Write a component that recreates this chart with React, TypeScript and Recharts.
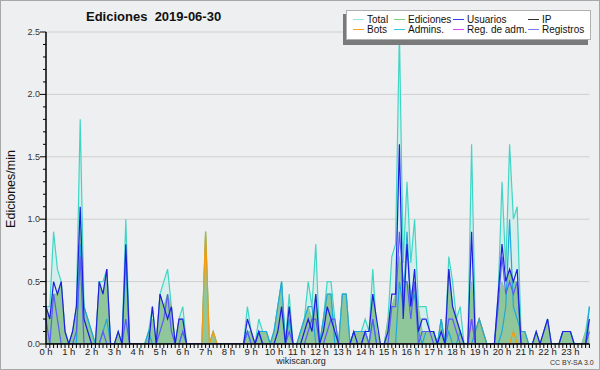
import React from 'react';
import { ComposedChart, Area, Line, XAxis, YAxis, CartesianGrid } from 'recharts';

const FONT = '"Liberation Sans", Arial, sans-serif';

const hourLabels = ['0 h','1 h','2 h','3 h','4 h','5 h','6 h','7 h','8 h','9 h','10 h','11 h','12 h','13 h','14 h','15 h','16 h','17 h','18 h','19 h','20 h','21 h','22 h','23 h'];

const total = [
  0.3, 0.3, 0.9, 0.6, 0.5, 0.1,
  0, 0.1, 0.3, 1.8, 0.3, 0.2,
  0.1, 0, 0.5, 0.5, 0.6, 0,
  0, 0.1, 0, 1.0, 0, 0,
  0, 0, 0, 0.1, 0.3, 0,
  0.4, 0.5, 0.6, 0.3, 0, 0.2,
  0.3, 0, 0, 0, 0, 0,
  0.9, 0, 0.1, 0, 0, 0,
  0, 0, 0, 0, 0, 0.3,
  0.1, 0, 0.2, 0.1, 0.1, 0,
  0.1, 0.3, 0.5, 0, 0.4, 0,
  0, 0.1, 0.2, 0.5, 0.3, 0.8,
  0, 0.2, 0.5, 0.5, 0.2, 0,
  0.4, 0.4, 0, 0.1, 0.1, 0.1,
  0.2, 0.1, 0.6, 0.1, 0, 0,
  0.2, 0.7, 0.8, 2.5, 0.65, 1.3,
  0.65, 1.0, 0.3, 0.3, 0.3, 0.1,
  0.1, 0, 0.2, 0, 0.7, 0.5,
  0.2, 0.3, 0, 0, 1.6, 0.1,
  0.2, 0.1, 0, 0, 0, 0.4,
  1.3, 0.6, 1.6, 1.0, 1.1, 0.1,
  0.1, 0, 0, 0.1, 0, 0.1,
  0.2, 0, 0, 0, 0.1, 0.1,
  0.1, 0, 0, 0, 0.1, 0.3,
];

const ediciones = [
  0.3, 0.2, 0.4, 0.4, 0.5, 0.1,
  0, 0.1, 0.3, 1.0, 0.3, 0.2,
  0.1, 0, 0.5, 0.4, 0.6, 0,
  0, 0.1, 0, 0.7, 0, 0,
  0, 0, 0, 0.1, 0.2, 0,
  0.4, 0.3, 0.4, 0.3, 0, 0.2,
  0.2, 0, 0, 0, 0, 0,
  0.9, 0, 0.1, 0, 0, 0,
  0, 0, 0, 0, 0, 0.1,
  0.1, 0, 0.1, 0.1, 0.1, 0,
  0.1, 0.3, 0.5, 0, 0.3, 0,
  0, 0.1, 0.2, 0.3, 0.2, 0.4,
  0, 0.2, 0.4, 0.4, 0.1, 0,
  0.4, 0.4, 0, 0.1, 0.1, 0.1,
  0.1, 0, 0.4, 0.1, 0, 0,
  0.2, 0.3, 0.4, 0.7, 0.5, 0.5,
  0.4, 0.5, 0.3, 0.1, 0.1, 0.1,
  0.1, 0, 0.2, 0, 0.6, 0.3,
  0.2, 0.1, 0, 0, 0.5, 0.1,
  0.2, 0.1, 0, 0, 0, 0.3,
  0.5, 0.4, 0.6, 0.5, 0.5, 0.1,
  0.1, 0, 0, 0.1, 0, 0.1,
  0.2, 0, 0, 0, 0.1, 0.1,
  0.1, 0, 0, 0, 0.1, 0.2,
];

const usuarios = [
  0.3, 0.2, 0.5, 0.4, 0.5, 0.1,
  0, 0.1, 0.3, 1.1, 0.2, 0.1,
  0, 0, 0.5, 0.4, 0.6, 0,
  0, 0.1, 0, 0.8, 0, 0,
  0, 0, 0, 0, 0.3, 0,
  0.4, 0.3, 0.2, 0.3, 0, 0.2,
  0.2, 0, 0, 0, 0, 0,
  0, 0, 0, 0, 0, 0,
  0, 0, 0, 0, 0, 0.2,
  0.1, 0, 0.1, 0, 0, 0,
  0, 0.1, 0.3, 0, 0.3, 0,
  0, 0, 0.1, 0.2, 0.1, 0.4,
  0, 0.1, 0.3, 0.2, 0.1, 0,
  0, 0, 0, 0.1, 0, 0,
  0.1, 0.1, 0.4, 0.2, 0, 0,
  0.1, 0.4, 0.4, 1.6, 0.2, 0.8,
  0.3, 0.6, 0.1, 0.2, 0.2, 0.1,
  0.1, 0, 0.1, 0, 0.6, 0.3,
  0.2, 0.1, 0, 0, 0.9, 0,
  0, 0, 0, 0, 0, 0.4,
  0.8, 0.5, 0.6, 0.5, 0.6, 0,
  0, 0, 0, 0.1, 0, 0.1,
  0.2, 0, 0, 0, 0.1, 0.1,
  0.1, 0, 0, 0, 0, 0.2,
];

const ip = [
  0, 0, 0, 0, 0, 0,  0, 0, 0, 0, 0, 0,  0, 0, 0, 0, 0, 0,  0, 0, 0, 0, 0, 0,
  0, 0, 0, 0, 0, 0,  0, 0, 0, 0, 0, 0,  0, 0, 0, 0, 0, 0,  0, 0, 0, 0, 0, 0,
  0, 0, 0, 0, 0, 0,  0, 0, 0, 0, 0, 0,  0, 0, 0, 0, 0, 0,  0, 0, 0, 0, 0, 0,
  0, 0, 0, 0, 0, 0,  0, 0, 0, 0, 0, 0,  0, 0, 0, 0, 0, 0,  0, 0, 0, 0, 0, 0,
  0, 0, 0, 0, 0, 0,  0, 0, 0, 0, 0, 0,  0, 0, 0, 0, 0, 0,  0, 0, 0, 0, 0, 0,
  0, 0, 0, 0, 0, 0,  0, 0, 0, 0, 0, 0,  0, 0, 0, 0, 0, 0,  0, 0, 0, 0, 0, 0,
];

const bots = [
  0, 0, 0, 0, 0, 0,  0, 0, 0, 0, 0, 0,  0, 0, 0, 0, 0, 0,  0, 0, 0, 0, 0, 0,
  0, 0, 0, 0, 0, 0,  0, 0, 0, 0, 0, 0,  0, 0, 0, 0, 0, 0,  0.9, 0, 0.1, 0, 0, 0,
  0, 0, 0, 0, 0, 0,  0, 0, 0, 0, 0, 0,  0, 0, 0, 0, 0, 0,  0, 0, 0, 0, 0, 0,
  0, 0, 0, 0, 0, 0,  0, 0, 0, 0, 0, 0,  0, 0, 0, 0, 0, 0,  0, 0, 0, 0, 0, 0,
  0, 0, 0, 0, 0, 0,  0, 0, 0, 0, 0, 0,  0, 0, 0, 0, 0, 0.1,  0.2, 0.1, 0, 0, 0, 0,
  0, 0, 0, 0.1, 0, 0,  0, 0, 0, 0, 0, 0,  0, 0, 0, 0, 0, 0,  0, 0, 0, 0, 0, 0,
];

const admins = [
  0, 0, 0, 0, 0, 0,
  0, 0, 0, 0.8, 0.3, 0.2,
  0.1, 0, 0, 0.1, 0.2, 0,
  0, 0, 0, 0.7, 0, 0,
  0, 0, 0, 0.1, 0, 0,
  0, 0, 0, 0, 0, 0,
  0.1, 0, 0, 0, 0, 0,
  0, 0, 0, 0, 0, 0,
  0, 0, 0, 0, 0, 0.1,
  0, 0, 0.1, 0.1, 0.1, 0,
  0.1, 0.3, 0.5, 0, 0.2, 0,
  0, 0.1, 0.2, 0.3, 0.3, 0,
  0, 0.2, 0.4, 0.4, 0, 0,
  0.4, 0.4, 0, 0.1, 0.1, 0.1,
  0.1, 0, 0.2, 0, 0, 0,
  0, 0, 0, 0.5, 0.3, 0.9,
  0.3, 0.4, 0.1, 0, 0.1, 0.1,
  0.1, 0, 0.2, 0, 0.1, 0,
  0, 0.1, 0, 0, 0, 0.1,
  0.2, 0.1, 0, 0, 0, 0,
  0.1, 0.3, 1.0, 0.3, 0.2, 0.1,
  0.1, 0, 0, 0, 0, 0,
  0, 0, 0, 0, 0.1, 0.1,
  0.1, 0, 0, 0, 0, 0.3,
];

const regAdm = [
  0, 0, 0, 0, 0, 0,  0, 0, 0, 0, 0, 0,  0, 0, 0, 0, 0, 0,  0, 0, 0, 0, 0, 0,
  0, 0, 0, 0, 0, 0,  0, 0, 0, 0, 0, 0,  0, 0, 0, 0, 0, 0,  0, 0, 0, 0, 0, 0,
  0, 0, 0, 0, 0, 0,  0, 0, 0, 0, 0, 0,  0, 0, 0, 0, 0, 0,  0, 0, 0, 0, 0, 0,
  0, 0, 0, 0, 0, 0,  0, 0, 0, 0, 0, 0,  0, 0, 0, 0, 0, 0,  0, 0, 0, 0, 0, 0,
  0, 0, 0, 0, 0, 0,  0, 0, 0, 0, 0, 0,  0, 0, 0, 0, 0.2, 0,  0, 0, 0, 0, 0, 0,
  0, 0, 0, 0, 0, 0,  0, 0, 0, 0, 0, 0,  0, 0, 0, 0, 0, 0,  0, 0, 0, 0, 0, 0,
];

const registros = [
  0.2, 0, 0.4, 0.2, 0, 0,
  0, 0, 0.1, 0.7, 0, 0,
  0, 0, 0, 0.1, 0, 0,
  0, 0, 0, 0.2, 0, 0,
  0, 0, 0, 0, 0, 0,
  0.1, 0.2, 0.4, 0.1, 0, 0,
  0.1, 0, 0, 0, 0, 0,
  0, 0, 0, 0, 0, 0,
  0, 0, 0, 0, 0, 0.1,
  0, 0, 0.1, 0, 0, 0,
  0, 0, 0, 0, 0.1, 0,
  0, 0, 0, 0.1, 0.2, 0.2,
  0, 0, 0.1, 0.2, 0.2, 0,
  0, 0, 0, 0, 0, 0,
  0.1, 0, 0.2, 0, 0, 0,
  0, 0.3, 0.3, 0.9, 0.5, 0.5,
  0.2, 0.5, 0, 0.1, 0.1, 0.1,
  0, 0, 0, 0, 0.2, 0.2,
  0.1, 0, 0, 0, 0.2, 0,
  0, 0, 0, 0, 0, 0.3,
  0.7, 0.4, 0.5, 0.4, 0.5, 0,
  0, 0, 0, 0, 0, 0,
  0, 0, 0, 0, 0, 0,
  0, 0, 0, 0, 0, 0.1,
];

const yTickValues = [0, 0.1, 0.2, 0.3, 0.4, 0.5, 0.6, 0.7, 0.8, 0.9, 1.0, 1.1, 1.2, 1.3, 1.4, 1.5, 1.6, 1.7, 1.8, 1.9, 2.0, 2.1, 2.2, 2.3, 2.4, 2.5];
const yLabelValues = [0, 0.5, 1.0, 1.5, 2.0, 2.5];
const gridValues = [0.5, 1.0, 1.5, 2.0, 2.5];

const legendItems = [
  { name: 'Total', color: '#8fe3de', col: 0, row: 0 },
  { name: 'Ediciones', color: '#7cce7c', col: 1, row: 0 },
  { name: 'Usuarios', color: '#3a3aff', col: 2, row: 0 },
  { name: 'IP', color: '#333333', col: 3, row: 0 },
  { name: 'Bots', color: '#ffa020', col: 0, row: 1 },
  { name: 'Admins.', color: '#30c8e0', col: 1, row: 1 },
  { name: 'Reg. de adm.', color: '#e040ff', col: 2, row: 1 },
  { name: 'Registros', color: '#7878ff', col: 3, row: 1 },
];
const legendCols = [353, 394, 453, 528];

const data = total.map((t, i) => ({
  i,
  total: t,
  ediciones: ediciones[i],
  usuarios: usuarios[i],
  ip: ip[i],
  bots: bots[i],
  admins: admins[i],
  regAdm: regAdm[i],
  registros: registros[i],
}));
const xTicks = data.map((d) => d.i);

const XTick = (props: any) => {
  const { x, y, payload } = props;
  const v = payload.value as number;
  const isHour = v % 6 === 0;
  return (
    <g>
      <line x1={x} x2={x} y1={y} y2={y + 4} stroke="#000" strokeWidth={1} />
      {isHour && (
        <text x={x} y={y + 11} textAnchor="middle" fontSize={9.5} fill="#222" fontFamily={FONT}>
          {hourLabels[v / 6]}
        </text>
      )}
    </g>
  );
};

const YTick = (props: any) => {
  const { x, y, payload } = props;
  const v = payload.value as number;
  const major = yLabelValues.some((m) => Math.abs(m - v) < 1e-6);
  return (
    <g>
      <line x1={x - (major ? 6 : 3)} x2={x} y1={y} y2={y} stroke="#000" strokeWidth={1} />
      {major && (
        <text x={x - 6} y={y + 3} textAnchor="end" fontSize={9} fill="#333" fontFamily={FONT}>
          {v.toFixed(1)}
        </text>
      )}
    </g>
  );
};

export default function App() {
  return (
    <div
      style={{
        position: 'absolute',
        left: 0,
        top: 0,
        width: 600,
        height: 370,
        background: '#eeeff0',
        boxSizing: 'border-box',
        border: '1px solid #a8a8a8',
        overflow: 'hidden',
        fontFamily: FONT,
      }}
    >
      <div style={{ position: 'absolute', left: -1, top: -1 }}>
        <ComposedChart
          width={600}
          height={370}
          data={data}
          margin={{ top: 32, right: 10.6, bottom: 0, left: 0 }}
        >
          <CartesianGrid vertical={false} horizontalValues={gridValues} stroke="#cfcfcf" strokeWidth={1} />
          <XAxis
            dataKey="i"
            type="number"
            domain={[0, 143]}
            ticks={xTicks}
            interval={0}
            height={26}
            tickSize={0}
            tickMargin={0}
            tickLine={false}
            axisLine={{ stroke: '#000', strokeWidth: 1.5 }}
            tick={<XTick />}
          />
          <YAxis
            type="number"
            domain={[0, 2.5]}
            ticks={yTickValues}
            interval={0}
            width={46}
            tickSize={0}
            tickMargin={0}
            tickLine={false}
            axisLine={{ stroke: '#000', strokeWidth: 1.5 }}
            tick={<YTick />}
            allowDataOverflow
          />
          <Area type="linear" dataKey="total" stroke="#3fd6c6" strokeWidth={1.2} fill="#cdeeea" fillOpacity={0.75} dot={false} activeDot={false} isAnimationActive={false} />
          <Area type="linear" dataKey="ediciones" stroke="#86c88c" strokeWidth={1} fill="#8fc79b" fillOpacity={1} dot={false} activeDot={false} isAnimationActive={false} />
          <Line type="linear" dataKey="bots" stroke="#f09a10" strokeWidth={1.2} dot={false} activeDot={false} isAnimationActive={false} />
          <Line type="linear" dataKey="regAdm" stroke="#d040e0" strokeWidth={1.2} dot={false} activeDot={false} isAnimationActive={false} />
          <Line type="linear" dataKey="admins" stroke="#1ea8dc" strokeWidth={1.2} dot={false} activeDot={false} isAnimationActive={false} />
          <Line type="linear" dataKey="registros" stroke="#5c5cf8" strokeWidth={1.2} dot={false} activeDot={false} isAnimationActive={false} />
          <Line type="linear" dataKey="usuarios" stroke="#1e1ee0" strokeWidth={1.2} dot={false} activeDot={false} isAnimationActive={false} />
          <Line type="linear" dataKey="ip" stroke="#303030" strokeWidth={1} dot={false} activeDot={false} isAnimationActive={false} />
        </ComposedChart>
      </div>

      <div
        style={{
          position: 'absolute',
          left: 85,
          top: 8,
          fontSize: 13,
          fontWeight: 'bold',
          color: '#111',
          whiteSpace: 'pre',
          lineHeight: '16px',
        }}
      >
        {'Ediciones  2019-06-30'}
      </div>

      <div
        style={{
          position: 'absolute',
          left: 10,
          top: 188,
          transform: 'translate(-50%, -50%) rotate(-90deg)',
          fontSize: 12.5,
          color: '#111',
          whiteSpace: 'nowrap',
          lineHeight: '14px',
        }}
      >
        Ediciones/min
      </div>

      <div style={{ position: 'absolute', left: 342, top: 13, width: 245, height: 31, background: '#7a7a7a' }} />
      <div
        style={{
          position: 'absolute',
          left: 345,
          top: 9,
          width: 245,
          height: 30,
          background: '#ffffff',
          border: '1px solid #b0b0b0',
          boxSizing: 'border-box',
        }}
      />
      {legendItems.map((it) => {
        const lx = legendCols[it.col];
        const cy = 19 + it.row * 10;
        return (
          <React.Fragment key={it.name}>
            <div style={{ position: 'absolute', left: lx - 1, top: cy - 1, width: 11, height: 1, background: it.color }} />
            <div
              style={{
                position: 'absolute',
                left: lx + 13,
                top: cy - 6,
                fontSize: 10,
                lineHeight: '12px',
                color: '#111',
                whiteSpace: 'nowrap',
              }}
            >
              {it.name}
            </div>
          </React.Fragment>
        );
      })}

      <div
        style={{
          position: 'absolute',
          left: 300,
          top: 355,
          transform: 'translateX(-50%)',
          fontSize: 9,
          lineHeight: '11px',
          color: '#222',
          whiteSpace: 'nowrap',
        }}
      >
        wikiscan.org
      </div>
      <div
        style={{
          position: 'absolute',
          left: 549,
          top: 357,
          fontSize: 7,
          lineHeight: '9px',
          color: '#333',
          whiteSpace: 'nowrap',
        }}
      >
        CC BY-SA 3.0
      </div>
    </div>
  );
}
